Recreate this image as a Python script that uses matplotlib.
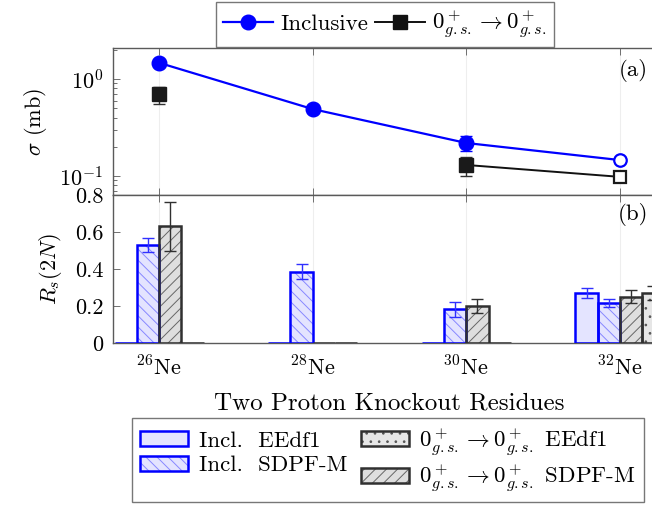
import faulthandler
faulthandler.dump_traceback_later(100, exit=True)
import numpy as np
import matplotlib
matplotlib.use("Agg")
import matplotlib.pyplot as plt
from matplotlib.lines import Line2D
from matplotlib.patches import Patch

plt.rcParams["font.family"] = "serif"
plt.rcParams["font.serif"] = ["cmr10"]
plt.rcParams["mathtext.fontset"] = "cm"
plt.rcParams["axes.formatter.use_mathtext"] = True
plt.rcParams["font.size"] = 16
plt.rcParams["hatch.linewidth"] = 0.7

# data
nuclei = [r"$^{26}$Ne", r"$^{28}$Ne", r"$^{30}$Ne", r"$^{32}$Ne"]
sigma_incl = [1.47, 0.49, 0.219, 0.146]
sigma_incl_err = [0.05, 0.02, 0.038, 0.0]
sigma_gs = [0.70, np.nan, 0.130, 0.098]
sigma_gs_lo = [0.15, 0.0, 0.029, 0.0]
sigma_gs_hi = [0.13, 0.0, 0.028, 0.0]

rs_incl_eedf1 = [0.0, 0.0, 0.0, 0.271]
rs_incl_eedf1_err = [0.0, 0.0, 0.0, 0.028]
rs_incl_sdpfm = [0.53, 0.385, 0.182, 0.216]
rs_incl_sdpfm_err = [0.04, 0.04, 0.039, 0.023]
rs_gs_sdpfm = [0.63, 0.0, 0.20, 0.25]
rs_gs_sdpfm_err = [0.13, 0.0, 0.04, 0.035]
rs_gs_eedf1 = [0.0, 0.0, 0.0, 0.271]
rs_gs_eedf1_err = [0.0, 0.0, 0.0, 0.037]

blue = "#0000ff"
dark = "#303030"
spine_c = "#5a5a5a"

x = np.arange(len(nuclei))

fig = plt.figure(figsize=(6.52, 5.05), dpi=100)
left = 113 / 652
right = 666 / 652
ax1 = fig.add_axes([left, 1 - 195 / 505, right - left, 147 / 505])
ax2 = fig.add_axes([left, 1 - 343 / 505, right - left, 148 / 505])

for ax in (ax1, ax2):
    ax.set_xlim(-0.3, 3.3)
    ax.set_xticks(x)
    ax.tick_params(axis="both", which="both", direction="in", top=True, right=True,
                   color=spine_c, width=0.6)
    ax.tick_params(axis="both", which="major", length=5)
    ax.tick_params(axis="both", which="minor", length=3)
    ax.tick_params(axis="y", which="major", pad=7)
    ax.xaxis.grid(True, color="#eeeeee", lw=0.8)
    ax.set_axisbelow(True)
    for s in ax.spines.values():
        s.set_color(spine_c)
        s.set_linewidth(1.0)

# top panel: cross sections
ax1.set_yscale("log")
ax1.set_ylim(0.0637, 2.09)
ax1.plot(x, sigma_incl, color=blue, lw=1.6, zorder=2)
ax1.plot(x[:3], sigma_incl[:3], "o", color=blue, ms=10.5, zorder=3)
ax1.plot(x[3], sigma_incl[3], "o", mfc="white", mec=blue, mew=1.6, ms=9, zorder=3)
ax1.errorbar(x[:3], sigma_incl[:3], yerr=sigma_incl_err[:3], fmt="none",
             ecolor=blue, elinewidth=1.0, capsize=4, zorder=2.5)
ax1.plot(x, sigma_gs, color="#111111", lw=1.4, zorder=2)
gs_idx = [0, 2]
ax1.plot(x[gs_idx], [sigma_gs[i] for i in gs_idx], "s", color="#1a1a1a", ms=9.5, zorder=3)
ax1.plot(x[3], sigma_gs[3], "s", mfc="white", mec="#1a1a1a", mew=1.6, ms=9, zorder=3)
ax1.errorbar(x[gs_idx], [sigma_gs[i] for i in gs_idx],
             yerr=[[sigma_gs_lo[i] for i in gs_idx], [sigma_gs_hi[i] for i in gs_idx]],
             fmt="none", ecolor=dark, elinewidth=1.0, capsize=4, zorder=2.5)
ax1.set_xticklabels([])
ax1.set_ylabel(r"$\sigma$ (mb)", labelpad=7.5)
ax1.text(0.967, 0.85, "(a)", transform=ax1.transAxes, ha="right", va="center", fontsize=16.5)

# bottom panel: reduction factors
w = 0.145
series = [
    (rs_incl_eedf1, rs_incl_eedf1_err, "#e4e4ff", None, blue, blue),
    (rs_incl_sdpfm, rs_incl_sdpfm_err, "#e4e4ff", "\\\\\\", "#8888ff", blue),
    (rs_gs_sdpfm, rs_gs_sdpfm_err, "#dedede", "///", "#666666", dark),
    (rs_gs_eedf1, rs_gs_eedf1_err, "#e6e6e6", "..", "#555555", dark),
]
for k, (vals, errs, fc, hatch, hc, ec) in enumerate(series):
    pos = x + (k - 1.5) * w
    ax2.bar(pos, vals, w, color=fc, hatch=hatch, edgecolor=hc, linewidth=0, zorder=2)
    ax2.bar(pos, vals, w, fill=False, edgecolor=ec, linewidth=1.8, zorder=3)
    sel = [i for i in range(len(vals)) if errs[i] > 0]
    ax2.errorbar(pos[sel], [vals[i] for i in sel], yerr=[errs[i] for i in sel], fmt="none",
                 ecolor=ec if ec != blue else "#3030ff", elinewidth=1.0, capsize=4, zorder=4)

ax2.set_ylim(0, 0.8)
ax2.set_yticks([0, 0.2, 0.4, 0.6, 0.8])
ax2.set_yticklabels(["0", "0.2", "0.4", "0.6", "0.8"])
ax2.set_xticklabels(nuclei)
ax2.tick_params(axis="x", which="major", pad=9)
ax2.set_ylabel(r"$R_s(2N)$", labelpad=8)
ax2.set_xlabel("Two Proton Knockout Residues", fontsize=18, labelpad=9)
ax2.text(0.967, 0.865, "(b)", transform=ax2.transAxes, ha="right", va="center", fontsize=16.5)

# legends
h_incl = Line2D([], [], color=blue, lw=1.6, marker="o", ms=10.5)
h_gs = Line2D([], [], color="#111111", lw=1.4, marker="s", ms=9.5)
gs_label = r"$0^+_{g.s.}\rightarrow 0^+_{g.s.}$"
leg1 = fig.legend([h_incl, h_gs], ["Inclusive", gs_label], loc="upper center",
                  bbox_to_anchor=(385 / 652, 1 - 2 / 505), ncol=2, frameon=True,
                  fancybox=False, edgecolor="#555555", handlelength=2.2,
                  handletextpad=0.3, columnspacing=0.3, borderpad=0.3,
                  borderaxespad=0, fontsize=16.5)
leg1.get_frame().set_linewidth(1.0)

handles = []
for vals, errs, fc, hatch, hc, ec in series:
    handles.append((Patch(facecolor=fc, hatch=hatch, edgecolor=hc, linewidth=0),
                    Patch(fill=False, edgecolor=ec, linewidth=1.8)))
labels = ["Incl.  EEdf1", "Incl.  SDPF-M", gs_label + " SDPF-M", gs_label + " EEdf1"]
order = [0, 1, 3, 2]
leg2 = fig.legend([handles[i] for i in order], [labels[i] for i in order], loc="upper center",
                  bbox_to_anchor=(388 / 652, 1 - 418 / 505), ncol=2, frameon=True,
                  fancybox=False, edgecolor="#555555", handlelength=2.1, handleheight=0.6,
                  handletextpad=0.45, columnspacing=0.6, borderpad=0.35, labelspacing=0.22,
                  borderaxespad=0, fontsize=16.5)
leg2.get_frame().set_linewidth(1.0)

fig.savefig("out.png", dpi=100)
faulthandler.cancel_dump_traceback_later()
